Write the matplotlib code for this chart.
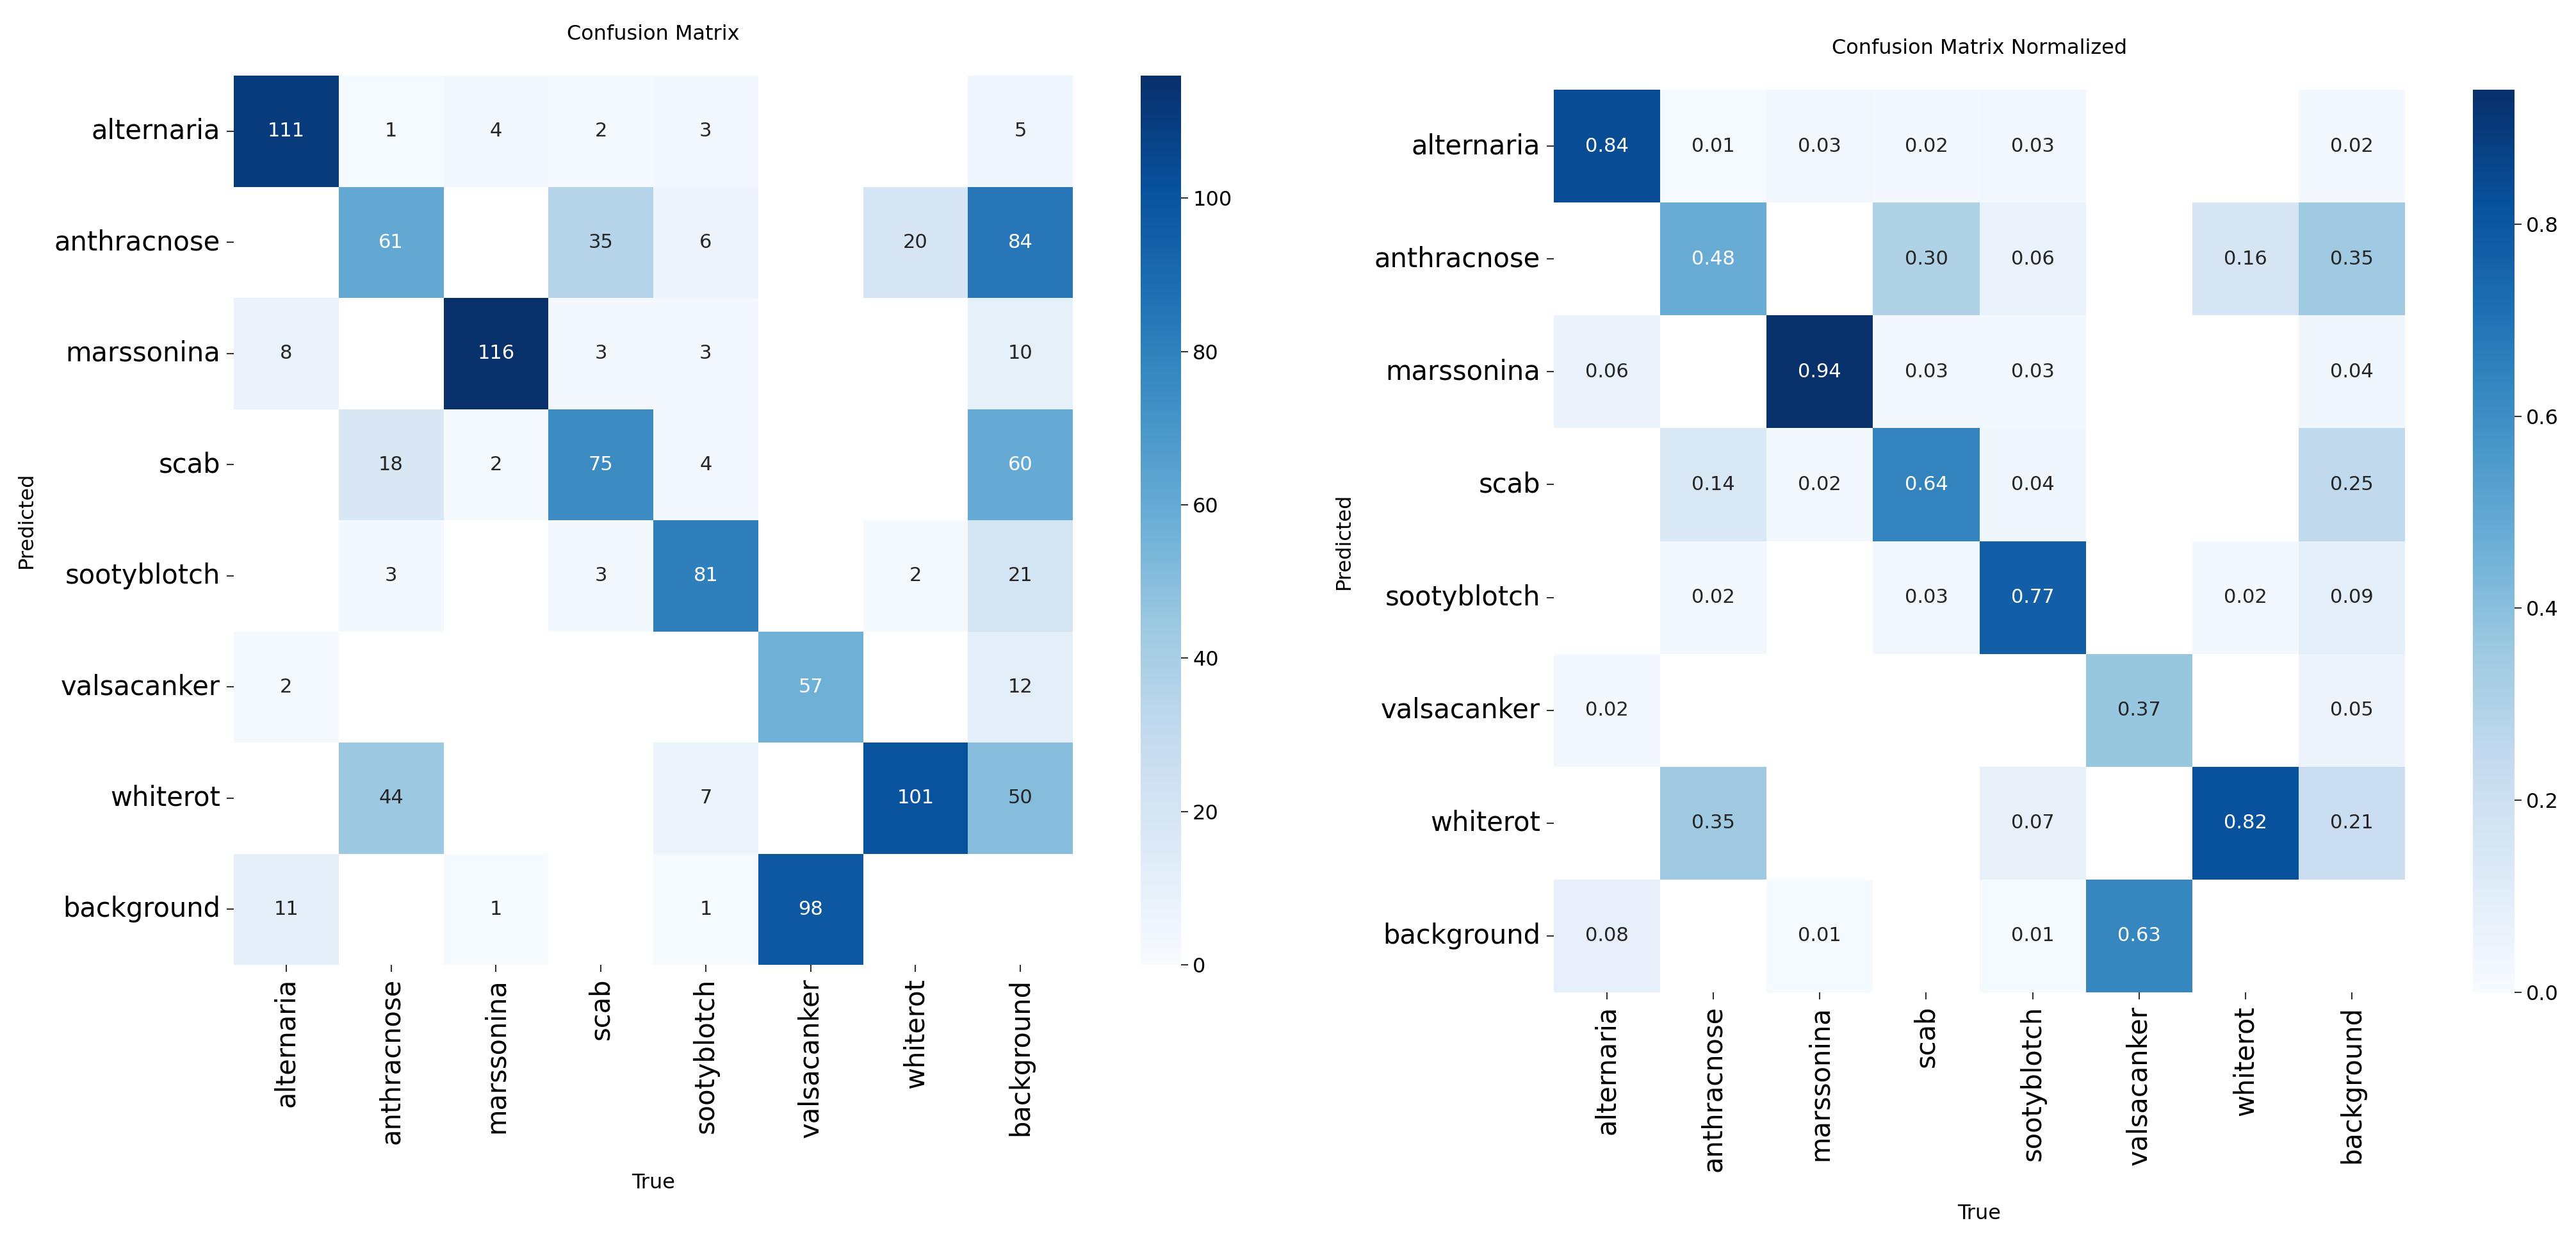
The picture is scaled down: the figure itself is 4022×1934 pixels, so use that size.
import numpy as np
import matplotlib
matplotlib.use("Agg")
import matplotlib.pyplot as plt
import seaborn as sns

plt.rcParams['font.family'] = ['DejaVu Sans']

names = ['alternaria', 'anthracnose', 'marssonina', 'scab',
         'sootyblotch', 'valsacanker', 'whiterot', 'background']

# rows = predicted, cols = true
counts = np.array([
    [111, 1, 4, 2, 3, 0, 0, 5],
    [0, 61, 0, 35, 6, 0, 20, 84],
    [8, 0, 116, 3, 3, 0, 0, 10],
    [0, 18, 2, 75, 4, 0, 0, 60],
    [0, 3, 0, 3, 81, 0, 2, 21],
    [2, 0, 0, 0, 0, 57, 0, 12],
    [0, 44, 0, 0, 7, 0, 101, 50],
    [11, 0, 1, 0, 1, 98, 0, 0],
], dtype=float)

normed = np.array([
    [0.84, 0.01, 0.03, 0.02, 0.03, 0, 0, 0.02],
    [0, 0.48, 0, 0.30, 0.06, 0, 0.16, 0.35],
    [0.06, 0, 0.94, 0.03, 0.03, 0, 0, 0.04],
    [0, 0.14, 0.02, 0.64, 0.04, 0, 0, 0.25],
    [0, 0.02, 0, 0.03, 0.77, 0, 0.02, 0.09],
    [0.02, 0, 0, 0, 0, 0.37, 0, 0.05],
    [0, 0.35, 0, 0, 0.07, 0, 0.82, 0.21],
    [0.08, 0, 0.01, 0, 0.01, 0.63, 0, 0],
])

# blank out empty cells like the original
counts[counts < 0.005] = np.nan
normed[normed < 0.005] = np.nan

W, H = 4023, 1934
fig = plt.figure(figsize=(W / 100, H / 100), dpi=100)


def px_axes(x0, y0, x1, y1):
    return fig.add_axes([x0 / W, 1 - y1 / H, (x1 - x0) / W, (y1 - y0) / H])


panels = [
    (counts, '.0f', 'Confusion Matrix', (365, 118, 1675, 1506), (1781, 1844)),
    (normed, '.2f', 'Confusion Matrix Normalized', (2426, 140, 3755, 1549), (3861, 3926)),
]

for data, fmt, title, box, cbx in panels:
    ax = px_axes(*box)
    cax = px_axes(cbx[0], box[1], cbx[1], box[3])
    sns.heatmap(data, ax=ax, cbar_ax=cax, annot=True, fmt=fmt, cmap='Blues',
                vmin=0.0, annot_kws={'size': 22},
                xticklabels=names, yticklabels=names)
    ax.set_facecolor('white')
    ax.set_yticklabels(names, rotation=0)
    ax.tick_params(axis='x', labelrotation=90)
    ax.tick_params(labelsize=30, length=8, width=1.5, pad=7, color='#333333')
    ax.set_title(title, fontsize=23, pad=40)
    ax.set_xlabel('True', fontsize=23)
    ax.set_ylabel('Predicted', fontsize=23)
    ax.xaxis.set_label_coords(0.5, -0.234)
    ax.yaxis.set_label_coords(-0.235, 0.5)
    cax.tick_params(labelsize=23, length=8, width=1.5, pad=5, color='#333333')

fig.savefig('out.png', dpi=100)
